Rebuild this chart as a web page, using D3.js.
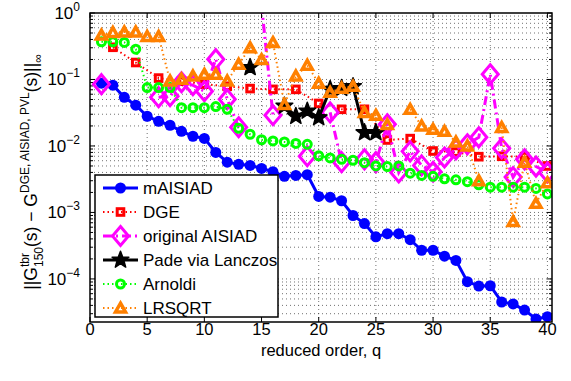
<!DOCTYPE html>
<html>
<head>
<meta charset="utf-8">
<script src="https://cdn.jsdelivr.net/npm/d3@7"></script>
<style>
  body { margin: 0; background: #fff; }
  text { font-family: "Liberation Sans", Arial, sans-serif; }
</style>
</head>
<body>
<svg id="chart" width="571" height="381"></svg>
<script>
// reduced orders q = 1..40
const orders = d3.range(1, 41);

const mAisiad = [0.088, 0.082, 0.054, 0.041, 0.028, 0.0235, 0.0205, 0.0166, 0.014, 0.013,
  0.0080, 0.0057, 0.0053, 0.0051, 0.0046, 0.0041, 0.0035, 0.0036, 0.0037, 0.00174,
  0.0017, 0.0015, 0.0009, 0.00068, 0.00043, 0.00048, 0.00048, 0.00039, 0.00027, 0.00027,
  0.00022, 0.00019, 9.1e-5, 7.8e-5, 7.9e-5, 4.5e-5, 4.2e-5, 3.4e-5, 2.5e-5, 2.7e-5];

// DGE only at even orders
const dgeOrders = d3.range(2, 41, 2);
const dge = [0.305, 0.180, 0.105, 0.094, 0.085, 0.079, 0.073, 0.071, 0.071, 0.0436,
  0.0356, 0.0356, 0.0123, 0.0129, 0.0084, 0.0081, 0.0069, 0.0070, 0.0069, 0.0050];

const origAisiad = [0.085, null, null, null, null, 0.054, 0.056, 0.091, 0.082, 0.0666,
  0.202, 0.0505, 0.0191, null, 1.32, 0.029, null, null, 0.0070, null,
  0.032, 0.0057, null, 0.0063, 0.0057, 0.0212, 0.0040, 0.0083, 0.0051, 0.0041,
  0.0067, 0.0089, 0.0106, 0.0135, 0.12, 0.0092, 0.0034, 0.0063, 0.0049, 0.0040];

const pade = [null, null, null, null, null, null, null, null, null, null,
  null, null, null, 0.152, null, null, 0.040, 0.028, 0.0336, 0.0267,
  0.0714, 0.0735, 0.0785, 0.0159, 0.0159, null, null, null, null, null,
  null, null, null, null, null, null, null, null, null, null];

const arnoldi = [0.369, 0.369, 0.361, 0.286, 0.0756, 0.0756, 0.0756, 0.0377, 0.0377, 0.0377,
  0.0391, 0.0356, 0.0184, 0.0150, 0.0124, 0.0119, 0.0115, 0.0109, 0.0106, 0.0071,
  0.0066, 0.0063, 0.0061, 0.0056, 0.0050, 0.0049, 0.0050, 0.0039, 0.0036, 0.0035,
  0.0032, 0.0031, 0.0029, 0.0026, 0.0024, 0.0024, 0.0024, 0.0024, 0.0023, 0.0019];

const lrsqrt = [0.466, 0.51, 0.52, 0.52, 0.445, 0.445, 0.095, 0.101, 0.113, 0.12,
  0.12, 0.095, 0.17, 0.30, 0.20, 0.36, 0.042, 0.113, 0.164, 0.088,
  0.064, 0.074, 0.079, 0.032, 0.029, 0.021, null, 0.0356, 0.020, 0.0178,
  0.0166, 0.0115, 0.0100, 0.0030, null, 0.019, 0.00073, 0.0057, 0.00137, 0.0028];

const legendNames = ["mAISIAD", "DGE", "original AISIAD", "Pade via Lanczos", "Arnoldi", "LRSQRT"];
const xTicks = d3.range(0, 41, 5);
const yDecades = [-4, -3, -2, -1, 0];

const series = [
  {name: legendNames[0], q: orders, v: mAisiad, color: "#0000ff", width: 3, dash: null, marker: "circleFilled"},
  {name: legendNames[1], q: dgeOrders, v: dge, color: "#ff0000", width: 2, dash: "1.5,3", marker: "square"},
  {name: legendNames[2], q: orders, v: origAisiad, color: "#ff00ff", width: 3, dash: "9,4,2,4", marker: "diamond"},
  {name: legendNames[3], q: orders, v: pade, color: "#000000", width: 3, dash: null, marker: "star"},
  {name: legendNames[4], q: orders, v: arnoldi, color: "#00ff00", width: 2, dash: "1.5,3", marker: "circle"},
  {name: legendNames[5], q: orders, v: lrsqrt, color: "#ff8000", width: 2, dash: "1.5,3", marker: "triangle"}
];

const pLeft = 90, pRight = 552, pTop = 13, pBottom = 322;
const x = d3.scaleLinear().domain([0, 40.4]).range([pLeft, pRight]);
const y = d3.scaleLog().domain([2.25e-5, 1]).range([pBottom, pTop]);

const svg = d3.select("#chart");

svg.append("defs").append("clipPath").attr("id", "plotClip")
  .append("rect").attr("x", pLeft).attr("y", pTop)
  .attr("width", pRight - pLeft).attr("height", pBottom - pTop);

// grid
const grid = svg.append("g").attr("stroke", "#333").attr("stroke-width", 0.7)
  .attr("stroke-dasharray", "1,3");
const yGridVals = [];
for (let e = -5; e <= 0; e++) {
  for (let k = 1; k <= 9; k++) {
    const v = k * Math.pow(10, e);
    if (v > 2.25e-5 && v < 1) yGridVals.push(v);
  }
}
grid.selectAll(".hg").data(yGridVals).enter().append("line")
  .attr("x1", pLeft).attr("x2", pRight)
  .attr("y1", d => y(d)).attr("y2", d => y(d));
grid.selectAll(".vg").data(xTicks.filter(d => d > 0)).enter().append("line")
  .attr("y1", pTop).attr("y2", pBottom)
  .attr("x1", d => x(d)).attr("x2", d => x(d));

// ticks
const ticks = svg.append("g").attr("stroke", "#000").attr("stroke-width", 1);
xTicks.forEach(t => {
  ticks.append("line").attr("x1", x(t)).attr("x2", x(t)).attr("y1", pBottom).attr("y2", pBottom - 5);
  ticks.append("line").attr("x1", x(t)).attr("x2", x(t)).attr("y1", pTop).attr("y2", pTop + 5);
});
yGridVals.concat([1]).forEach(v => {
  const major = Math.abs(Math.log10(v) - Math.round(Math.log10(v))) < 1e-9;
  const len = major ? 5 : 3;
  ticks.append("line").attr("x1", pLeft).attr("x2", pLeft + len).attr("y1", y(v)).attr("y2", y(v));
  ticks.append("line").attr("x1", pRight).attr("x2", pRight - len).attr("y1", y(v)).attr("y2", y(v));
});

// tick labels
svg.append("g").selectAll("text").data(xTicks).enter().append("text")
  .attr("x", d => x(d)).attr("y", 335)
  .attr("text-anchor", "middle").attr("font-size", 16.5)
  .text(d => d);

const yl = svg.append("g").selectAll("text").data(yDecades).enter().append("text")
  .attr("x", 80).attr("y", d => y(Math.pow(10, d)) + 6)
  .attr("text-anchor", "end").attr("font-size", 17);
yl.append("tspan").text("10");
yl.append("tspan").attr("dy", -8).attr("font-size", 12)
  .text(d => d === 0 ? "0" : "\u2212" + (-d));

// x label
svg.append("text").attr("x", (pLeft + pRight) / 2).attr("y", 356)
  .attr("text-anchor", "middle").attr("font-size", 16.5)
  .text("reduced order, q");

// y label built piece by piece
const ylab = svg.append("g").attr("transform", "translate(37,172) rotate(-90)");
const pieces = [
  {t: "||G", s: 17.5, dy: 0},
  {stack: [{t: "tbr", s: 12, dy: -8.5}, {t: "150", s: 12, dy: 6}]},
  {t: "(s) \u2212 G", s: 17.5, dy: 0},
  {t: "DGE, AISIAD, PVL", s: 12, dy: -8.5},
  {t: "(s)||", s: 17.5, dy: 0},
  {t: "\u221e", s: 12, dy: 5}
];
let cursor = 0;
const ylabItems = ylab.append("g");
pieces.forEach(p => {
  if (p.stack) {
    let w = 0;
    p.stack.forEach(s => {
      const el = ylabItems.append("text").attr("x", cursor).attr("y", s.dy)
        .attr("font-size", s.s).text(s.t);
      w = Math.max(w, el.node().getComputedTextLength());
    });
    cursor += w;
  } else {
    const el = ylabItems.append("text").attr("x", cursor).attr("y", p.dy)
      .attr("font-size", p.s).text(p.t);
    cursor += el.node().getComputedTextLength();
  }
});
ylabItems.attr("transform", `translate(${-cursor / 2},0)`);

// markers
function drawMarker(g, type, cx, cy, color) {
  if (type === "circleFilled") {
    g.append("circle").attr("cx", cx).attr("cy", cy).attr("r", 5.5).attr("fill", color);
  } else if (type === "circle") {
    g.append("circle").attr("cx", cx).attr("cy", cy).attr("r", 4)
      .attr("fill", "none").attr("stroke", color).attr("stroke-width", 3);
  } else if (type === "square") {
    g.append("rect").attr("x", cx - 3.3).attr("y", cy - 3.3).attr("width", 6.6).attr("height", 6.6)
      .attr("fill", "none").attr("stroke", color).attr("stroke-width", 3);
  } else if (type === "diamond") {
    g.append("path").attr("d", `M${cx},${cy - 9.5}L${cx + 8},${cy}L${cx},${cy + 9.5}L${cx - 8},${cy}Z`)
      .attr("fill", "none").attr("stroke", color).attr("stroke-width", 3);
  } else if (type === "triangle") {
    g.append("path").attr("d", `M${cx},${cy - 4.8}L${cx + 5},${cy + 4}L${cx - 5},${cy + 4}Z`)
      .attr("fill", "none").attr("stroke", color).attr("stroke-width", 3.5).attr("stroke-linejoin", "miter");
  } else if (type === "star") {
    const pts = d3.range(10).map(i => {
      const r = i % 2 === 0 ? 8.8 : 3.7;
      const a = -Math.PI / 2 + i * Math.PI / 5;
      return [cx + r * Math.cos(a), cy + r * Math.sin(a)];
    });
    g.append("path").attr("d", "M" + pts.join("L") + "Z").attr("fill", color)
      .attr("stroke", color).attr("stroke-width", 1.5).attr("stroke-linejoin", "round");
  }
}

const plot = svg.append("g").attr("clip-path", "url(#plotClip)");
series.forEach(s => {
  const pts = s.q.map((q, i) => ({q: q, v: s.v[i]}));
  const line = d3.line().defined(d => d.v != null)
    .x(d => x(d.q)).y(d => y(d.v));
  plot.append("path").datum(pts).attr("d", line)
    .attr("fill", "none").attr("stroke", s.color).attr("stroke-width", s.width)
    .attr("stroke-dasharray", s.dash);
  const mg = plot.append("g");
  pts.filter(d => d.v != null && d.v <= 1).forEach(d => drawMarker(mg, s.marker, x(d.q), y(d.v), s.color));
});

// axes box
svg.append("rect").attr("x", pLeft).attr("y", pTop).attr("width", pRight - pLeft).attr("height", pBottom - pTop)
  .attr("fill", "none").attr("stroke", "#000").attr("stroke-width", 1.5);

// legend
const lg = svg.append("g");
lg.append("rect").attr("x", 95).attr("y", 175).attr("width", 183).attr("height", 142)
  .attr("fill", "#fff").attr("stroke", "#000").attr("stroke-width", 1.5);
series.forEach((s, i) => {
  const ly = 188 + i * 24;
  lg.append("line").attr("x1", 103).attr("x2", 138).attr("y1", ly).attr("y2", ly)
    .attr("stroke", s.color).attr("stroke-width", s.width).attr("stroke-dasharray", s.dash);
  drawMarker(lg, s.marker, 120.5, ly, s.color);
  lg.append("text").attr("x", 143).attr("y", ly + 6).attr("font-size", 17).text(s.name);
});
</script>
</body>
</html>
